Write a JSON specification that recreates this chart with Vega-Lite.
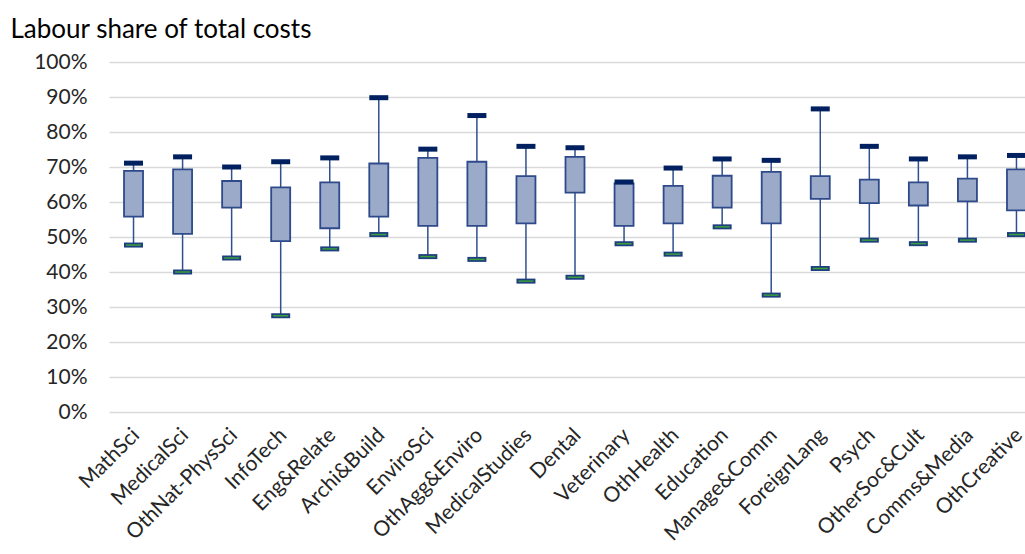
{
  "$schema": "https://vega.github.io/schema/vega-lite/v6.json",
  "width": 916,
  "height": 350,
  "autosize": {"type": "none"},
  "padding": {"left": 109, "top": 62, "right": 0, "bottom": 142},
  "background": "white",
  "data": {"values": [
    {"cat": "MathSci", "lo": 0.477, "q1": 0.558, "q3": 0.689, "hi": 0.711},
    {"cat": "MedicalSci", "lo": 0.400, "q1": 0.509, "q3": 0.693, "hi": 0.729},
    {"cat": "OthNat-PhysSci", "lo": 0.440, "q1": 0.584, "q3": 0.660, "hi": 0.700},
    {"cat": "InfoTech", "lo": 0.275, "q1": 0.488, "q3": 0.642, "hi": 0.715},
    {"cat": "Eng&Relate", "lo": 0.466, "q1": 0.525, "q3": 0.656, "hi": 0.726},
    {"cat": "Archi&Build", "lo": 0.507, "q1": 0.558, "q3": 0.710, "hi": 0.898},
    {"cat": "EnviroSci", "lo": 0.444, "q1": 0.532, "q3": 0.726, "hi": 0.751},
    {"cat": "OthAgg&Enviro", "lo": 0.436, "q1": 0.532, "q3": 0.715, "hi": 0.847},
    {"cat": "MedicalStudies", "lo": 0.374, "q1": 0.539, "q3": 0.674, "hi": 0.759},
    {"cat": "Dental", "lo": 0.385, "q1": 0.627, "q3": 0.729, "hi": 0.755},
    {"cat": "Veterinary", "lo": 0.481, "q1": 0.532, "q3": 0.653, "hi": 0.657},
    {"cat": "OthHealth", "lo": 0.451, "q1": 0.539, "q3": 0.646, "hi": 0.697},
    {"cat": "Education", "lo": 0.529, "q1": 0.584, "q3": 0.675, "hi": 0.723},
    {"cat": "Manage&Comm", "lo": 0.334, "q1": 0.539, "q3": 0.686, "hi": 0.719},
    {"cat": "ForeignLang", "lo": 0.410, "q1": 0.609, "q3": 0.674, "hi": 0.866},
    {"cat": "Psych", "lo": 0.491, "q1": 0.597, "q3": 0.664, "hi": 0.759},
    {"cat": "OtherSoc&Cult", "lo": 0.481, "q1": 0.590, "q3": 0.656, "hi": 0.723},
    {"cat": "Comms&Media", "lo": 0.491, "q1": 0.602, "q3": 0.667, "hi": 0.729},
    {"cat": "OthCreative", "lo": 0.507, "q1": 0.576, "q3": 0.693, "hi": 0.733}
  ]},
  "encoding": {
    "x": {
      "field": "cat", "type": "nominal", "sort": null, "title": null,
      "scale": {"range": [0, 932], "paddingInner": 0, "paddingOuter": 0},
      "axis": {
        "labelAngle": -45, "domain": false, "ticks": false, "grid": false,
        "labelFont": "Lato", "labelFontSize": 21, "labelColor": "#262626",
        "labelPadding": 12, "labelOffset": -5
      }
    }
  },
  "config": {
    "view": {"stroke": null},
    "axisY": {
      "domain": false, "ticks": false, "grid": true, "gridColor": "#d9d9d9", "gridWidth": 1.3,
      "labelFont": "Lato", "labelFontSize": 21, "labelColor": "#262626", "labelPadding": 22,
      "values": [0, 0.1, 0.2, 0.3, 0.4, 0.5, 0.6, 0.7, 0.8, 0.9, 1.0],
      "format": ".0%",
      "titleAngle": 0, "titleAlign": "left", "titleBaseline": "alphabetic",
      "titleX": -99, "titleY": -25, "titleFont": "Lato", "titleFontSize": 26,
      "titleFontWeight": "normal", "titleColor": "#000000"
    }
  },
  "layer": [
    {
      "mark": {"type": "rule", "color": "#2f4f8f", "strokeWidth": 1.5},
      "encoding": {
        "y": {"field": "lo", "type": "quantitative", "scale": {"domain": [0, 1], "nice": false}, "title": "Labour share of total costs"},
        "y2": {"field": "hi"}
      }
    },
    {
      "mark": {"type": "bar", "width": 19, "fill": "#9aaac8", "stroke": "#2e4a8a", "strokeWidth": 1.8},
      "encoding": {
        "y": {"field": "q1", "type": "quantitative", "title": "Labour share of total costs"},
        "y2": {"field": "q3"}
      }
    },
    {
      "mark": {"type": "tick", "color": "#002060", "thickness": 5, "size": 19, "opacity": 1},
      "encoding": {
        "y": {"field": "hi", "type": "quantitative", "title": "Labour share of total costs"}
      }
    },
    {
      "mark": {"type": "tick", "color": "#1f3f80", "thickness": 5, "size": 19, "opacity": 1},
      "encoding": {
        "y": {"field": "lo", "type": "quantitative", "title": "Labour share of total costs"}
      }
    },
    {
      "mark": {"type": "tick", "color": "#3aa03a", "thickness": 1.5, "size": 15, "opacity": 1},
      "encoding": {
        "y": {"field": "lo", "type": "quantitative", "title": "Labour share of total costs"}
      }
    }
  ]
}
